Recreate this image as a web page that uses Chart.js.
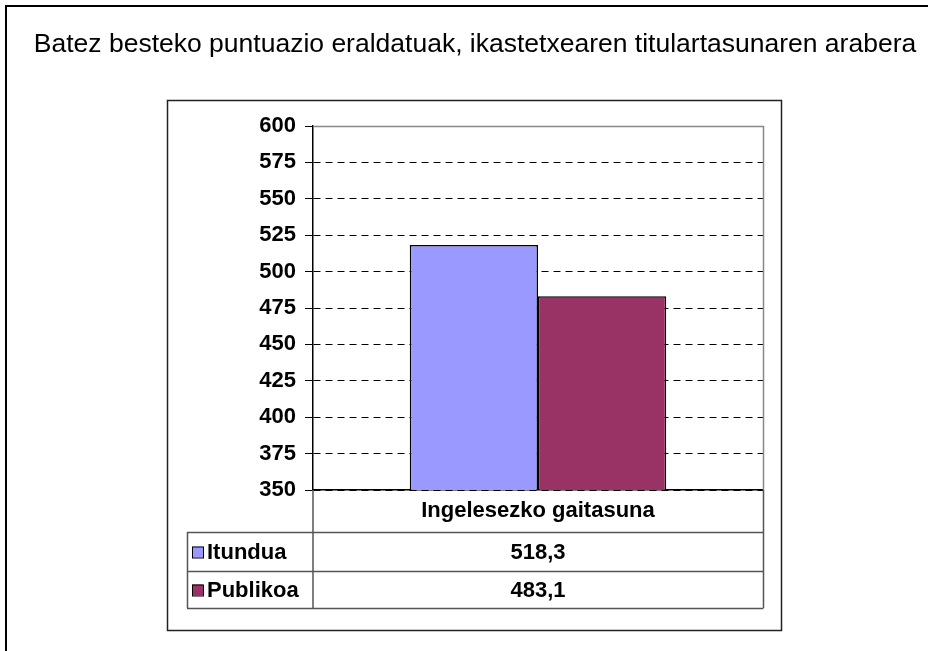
<!DOCTYPE html>
<html>
<head>
<meta charset="utf-8">
<script src="https://cdn.jsdelivr.net/npm/chart.js@4.4.0/dist/chart.umd.min.js"></script>
<style>
  html, body { margin: 0; padding: 0; background: #fff; }
  #wrap { position: absolute; left: 0; top: 0; width: 928px; height: 651px; }
</style>
</head>
<body>
<div id="wrap"><canvas id="c" width="928" height="651"></canvas></div>
<script>
const titleText = 'Batez besteko puntuazio eraldatuak, ikastetxearen titulartasunaren arabera';
const categories = ['Ingelesezko gaitasuna'];
const seriesNames = ['Itundua', 'Publikoa'];
const itunduaValues = [518.3];
const publikoaValues = [483.1];
const seriesColors = ['#9999FF', '#993366'];
const yMin = 350, yMax = 600, yStep = 25;

const FONT = "'Liberation Sans', Arial, sans-serif";
const PAD_LEFT = 187, PAD_RIGHT = 165;
const AXIS_W = 313 - PAD_LEFT;
const HEADER_H = 42;
const ROW_HS = [39, 37];
const LBL_SIZE = 22;

function fmt(v) { return v.toFixed(1).replace('.', ','); }

const framePlugin = {
  id: 'frame',
  beforeDraw(chart) {
    const ctx = chart.ctx;
    ctx.save();
    ctx.fillStyle = '#fff';
    ctx.fillRect(0, 0, chart.width, chart.height);
    // outer border
    ctx.strokeStyle = '#000';
    ctx.lineWidth = 2;
    ctx.strokeRect(6, 6, 1000, 1000);
    // title
    ctx.fillStyle = '#000';
    ctx.font = '26.5px ' + FONT;
    ctx.textAlign = 'center';
    ctx.textBaseline = 'middle';
    ctx.fillText(titleText, 475, 45);
    // inner chart box
    ctx.strokeStyle = '#222';
    ctx.lineWidth = 1.5;
    ctx.strokeRect(167.5, 100.5, 614, 530);
    ctx.restore();
  },
  afterDraw(chart) {
    const ctx = chart.ctx;
    const a = chart.chartArea;
    const xs = chart.scales.x;
    ctx.save();
    // plot frame top/right (gray)
    ctx.strokeStyle = '#888';
    ctx.lineWidth = 1.5;
    ctx.beginPath();
    ctx.moveTo(a.left, a.top + 0.5);
    ctx.lineTo(a.right + 0.5, a.top + 0.5);
    ctx.lineTo(a.right + 0.5, a.bottom);
    ctx.stroke();

    // data table
    const tLeft = PAD_LEFT;
    const tRight = a.right + 0.5;
    const hdrBottom = a.bottom + HEADER_H;
    const rowTops = [hdrBottom];
    for (let i = 0; i < ROW_HS.length; i++) rowTops.push(rowTops[i] + ROW_HS[i]);
    const tBottom = rowTops[rowTops.length - 1];

    ctx.strokeStyle = '#555';
    ctx.lineWidth = 1.5;
    ctx.beginPath();
    ctx.moveTo(tRight, a.bottom); ctx.lineTo(tRight, tBottom);
    ctx.moveTo(a.left, a.bottom); ctx.lineTo(a.left, tBottom);
    ctx.moveTo(tLeft + 0.5, hdrBottom); ctx.lineTo(tLeft + 0.5, tBottom);
    rowTops.forEach(y => { ctx.moveTo(tLeft, y + 0.5); ctx.lineTo(tRight, y + 0.5); });
    ctx.stroke();

    const datasets = chart.data.datasets;
    ctx.font = 'bold ' + LBL_SIZE + 'px ' + FONT;
    ctx.textBaseline = 'middle';
    datasets.forEach((ds, i) => {
      const cy = rowTops[i] + ROW_HS[i] / 2 + 1;
      ctx.fillStyle = ds.backgroundColor;
      ctx.fillRect(tLeft + 5, cy - 6, 11, 11);
      ctx.strokeStyle = '#000';
      ctx.lineWidth = 1;
      ctx.strokeRect(tLeft + 5.5, cy - 5.5, 11, 11);
      ctx.fillStyle = '#000';
      ctx.textAlign = 'left';
      ctx.fillText(ds.label, tLeft + 20, cy);
      ctx.textAlign = 'center';
      ds.data.forEach((v, j) => {
        ctx.fillText(fmt(v), xs.getPixelForValue(j), cy);
      });
    });
    ctx.restore();
  }
};

new Chart(document.getElementById('c'), {
  type: 'bar',
  data: {
    labels: categories,
    datasets: [
      { label: seriesNames[0], data: itunduaValues, backgroundColor: seriesColors[0], borderColor: '#000', borderWidth: 1.5 },
      { label: seriesNames[1], data: publikoaValues, backgroundColor: seriesColors[1], borderColor: '#000', borderWidth: 1.5 }
    ]
  },
  options: {
    responsive: false,
    animation: false,
    devicePixelRatio: 1,
    layout: { padding: { left: PAD_LEFT, right: PAD_RIGHT, top: 126, bottom: 161 - HEADER_H } },
    datasets: { bar: { barPercentage: 1, categoryPercentage: 0.57 } },
    plugins: {
      legend: { display: false },
      tooltip: { enabled: false },
      title: { display: false }
    },
    scales: {
      x: {
        afterFit(s) { s.height = HEADER_H; },
        grid: { display: false, drawTicks: false },
        border: { display: true, color: '#000', width: 1.5 },
        ticks: { color: '#000', font: { family: FONT, size: LBL_SIZE, weight: 'bold' }, padding: 8 }
      },
      y: {
        min: yMin, max: yMax,
        afterFit(s) { s.width = AXIS_W; },
        ticks: { stepSize: yStep, color: '#000', font: { family: FONT, size: LBL_SIZE, weight: 'bold' }, padding: 9 },
        grid: {
          color: ctx => (ctx.tick && ctx.tick.value === yMax) ? '#888' : '#000',
          lineWidth: 1,
          drawTicks: true,
          tickLength: 8,
          tickColor: '#000',
          tickBorderDash: []
        },
        border: {
          display: true, color: '#000', width: 1.5,
          dash: ctx => (ctx.tick && ctx.tick.value === yMax) ? [] : [7, 5]
        }
      }
    }
  },
  plugins: [framePlugin]
});
</script>
</body>
</html>
